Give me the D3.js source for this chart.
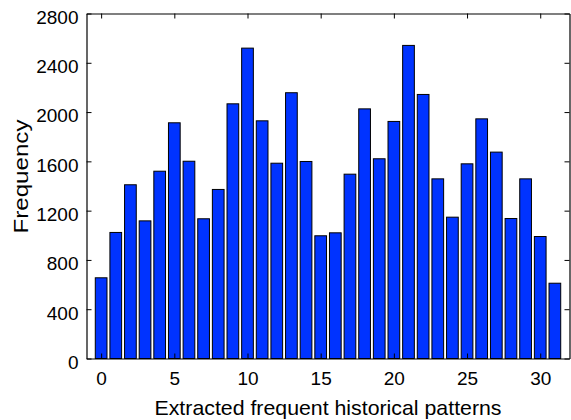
<!DOCTYPE html>
<html><head><meta charset="utf-8">
<script src="https://cdn.jsdelivr.net/npm/d3@7"></script>
<style>
body{margin:0;background:#fff;}
text{font-family:"Liberation Sans",Arial,Helvetica,sans-serif;fill:#000;}
</style></head><body>
<svg id="chart" width="571" height="420"></svg>
<script>
const categories = d3.range(0, 32);
const frequencies = [655, 1023, 1410, 1117, 1520, 1913, 1601, 1134, 1372, 2067,
  2519, 1929, 1585, 2157, 1599, 996, 1020, 1496, 2026, 1621,
  1924, 2541, 2143, 1458, 1147, 1580, 1945, 1675, 1136, 1458,
  990, 611];
const xTicks = [0, 5, 10, 15, 20, 25, 30];
const yTicks = [0, 400, 800, 1200, 1600, 2000, 2400, 2800];
const xLabel = "Extracted frequent historical patterns";
const yLabel = "Frequency";

const svg = d3.select("#chart");
const L = 86.5, R = 569.5, T = 13.5, B = 358.5;
const x = d3.scaleLinear().domain([-1, 32]).range([L, R]);
const y = d3.scaleLinear().domain([0, 2800]).range([B, T]);
const bw = x(0.8) - x(0);

svg.append("g").selectAll("rect").data(frequencies).join("rect")
  .attr("x", (d, i) => x(categories[i]) - bw / 2)
  .attr("y", d => y(d))
  .attr("width", bw)
  .attr("height", d => y(0) - y(d))
  .attr("fill", "#0033ff")
  .attr("stroke", "#000")
  .attr("stroke-width", 1);

const fs = 19;
const fmt = d3.format("d");
const gb = svg.append("g").attr("transform", `translate(0,${B})`)
  .call(d3.axisBottom(x).tickValues(xTicks).tickFormat(fmt).tickSizeInner(-5).tickSizeOuter(0).tickPadding(13));
const gt = svg.append("g").attr("transform", `translate(0,${T})`)
  .call(d3.axisTop(x).tickValues(xTicks).tickSizeInner(-5).tickSizeOuter(0).tickFormat(""));
const gl = svg.append("g").attr("transform", `translate(${L},0)`)
  .call(d3.axisLeft(y).tickValues(yTicks).tickFormat(fmt).tickSizeInner(-5).tickSizeOuter(0).tickPadding(8));
const gr = svg.append("g").attr("transform", `translate(${R},0)`)
  .call(d3.axisRight(y).tickValues(yTicks).tickSizeInner(-5).tickSizeOuter(0).tickFormat(""));

[gb, gt, gl, gr].forEach(g => {
  g.selectAll("path.domain").attr("stroke", "#000").attr("stroke-width", 1.2);
  g.selectAll(".tick line").attr("stroke", "#000").attr("stroke-width", 1);
  g.selectAll(".tick text").attr("font-size", fs).attr("font-family", "Liberation Sans, Arial, sans-serif").attr("fill", "#000");
});
gl.selectAll(".tick text").attr("dy", "0.52em");

svg.append("text").attr("x", (L + R) / 2).attr("y", 415)
  .attr("text-anchor", "middle").attr("font-size", 21)
  .attr("textLength", 347).attr("lengthAdjust", "spacingAndGlyphs").text(xLabel);
svg.append("text").attr("transform", `translate(28,176.5) rotate(-90)`)
  .attr("text-anchor", "middle").attr("font-size", 20)
  .attr("textLength", 114).attr("lengthAdjust", "spacingAndGlyphs").text(yLabel);
</script></body></html>
